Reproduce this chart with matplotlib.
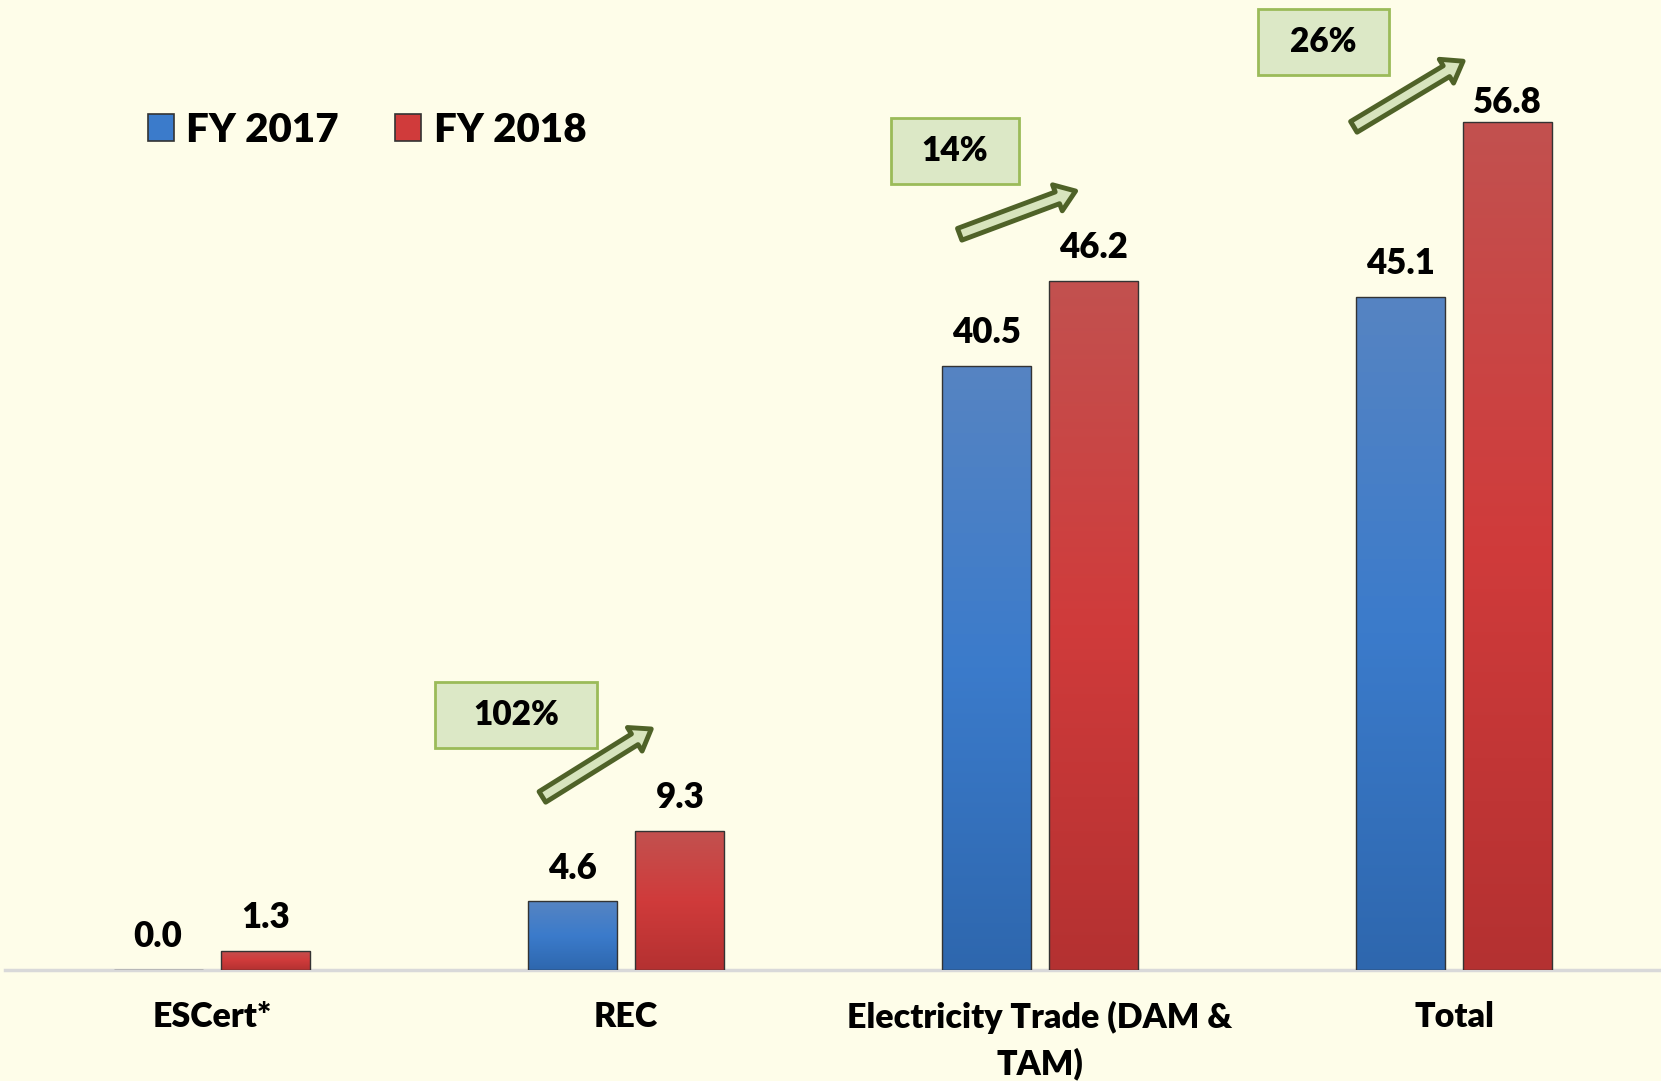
import numpy as np
import matplotlib
matplotlib.use("Agg")
import matplotlib.pyplot as plt
from matplotlib.patches import Patch, Rectangle, FancyArrowPatch
from matplotlib.colors import LinearSegmentedColormap

# ---------------------------------------------------------------------------
# Data
# ---------------------------------------------------------------------------
categories = ["ESCert*", "REC", "Electricity Trade (DAM &\nTAM)", "Total"]
fy2017 = [0.0, 4.6, 40.5, 45.1]
fy2018 = [1.3, 9.3, 46.2, 56.8]
series_names = ["FY 2017", "FY 2018"]

# growth call-outs: category index -> (box centre, arrow tail, arrow tip) in data units
growth_idx = [1, 2, 3]
growth_box = [(0.734, 17.1), (1.795, 54.9), (2.685, 62.2)]
growth_box_w = [0.39, 0.31, 0.317]
growth_tail = [(0.798, 11.6), (1.806, 49.3), (2.758, 56.5)]
growth_tip = [(1.061, 16.15), (2.086, 52.2), (3.022, 60.9)]

# ---------------------------------------------------------------------------
# Style
# ---------------------------------------------------------------------------
BG = "#FEFDE9"
BLUE_GRAD = ["#5684C2", "#3B7BCB", "#2E67AE"]
RED_GRAD = ["#C2514F", "#D03B3B", "#B43131"]
BOX_FACE = "#DCE8C6"
BOX_EDGE = "#9BBB59"
ARROW_FACE = "#D7E4BD"
ARROW_EDGE = "#4F6228"
WEIGHT = "heavy"

BAR_WIDTH = 0.215
OFFSET = 0.13

plt.rcParams.update({
    "font.family": ["Lato", "DejaVu Sans"],
    "font.weight": WEIGHT,
})

fig = plt.figure(figsize=(16.61, 10.81), dpi=100, facecolor=BG)
ax = fig.add_axes([5 / 1661, 1 - 970 / 1081, 1 - 5 / 1661, 970 / 1081])
ax.set_facecolor(BG)

x = np.arange(len(categories))
b1 = ax.bar(x - OFFSET, fy2017, BAR_WIDTH, color=BLUE_GRAD[1],
            edgecolor="#333333", linewidth=1.0, zorder=3)
b2 = ax.bar(x + OFFSET, fy2018, BAR_WIDTH, color=RED_GRAD[1],
            edgecolor="#333333", linewidth=1.0, zorder=3)


def _gradient(bars, colors):
    cmap = LinearSegmentedColormap.from_list("g", colors[::-1])
    grad = np.linspace(0, 1, 256).reshape(-1, 1)
    for bar in bars:
        x0, y0 = bar.get_x(), bar.get_y()
        w, h = bar.get_width(), bar.get_height()
        if h <= 0:
            continue
        im = ax.imshow(grad, cmap=cmap, aspect="auto", origin="lower",
                       extent=[x0, x0 + w, y0, y0 + h], zorder=3.5)
        im.set_clip_path(bar)
        bar.set_facecolor("none")
        bar.set_zorder(4)


_gradient(b1, BLUE_GRAD)
_gradient(b2, RED_GRAD)

# value labels
ymax_val = max(fy2018)
for bars, vals in ((b1, fy2017), (b2, fy2018)):
    for bar, v in zip(bars, vals):
        off = 14 if v == ymax_val else 24
        ax.annotate(f"{v:.1f}", (bar.get_x() + bar.get_width() / 2, v),
                    xytext=(0, off), textcoords="offset points",
                    ha="center", va="center", fontsize=25, fontweight=WEIGHT,
                    color="black", zorder=6)

# growth call-outs
for i, (cx, cy), bw, tail, tip in zip(growth_idx, growth_box, growth_box_w,
                                      growth_tail, growth_tip):
    pct = round((fy2018[i] / fy2017[i] - 1) * 100)
    bh = 4.4
    ax.add_patch(Rectangle((cx - bw / 2, cy - bh / 2), bw, bh,
                           facecolor=BOX_FACE, edgecolor=BOX_EDGE,
                           linewidth=2, zorder=5))
    ax.text(cx, cy, f"{pct}%", ha="center", va="center", fontsize=24,
            fontweight=WEIGHT, color="black", zorder=6)
    arr = FancyArrowPatch(tail, tip,
                          arrowstyle="simple,head_width=20,head_length=14,tail_width=9",
                          facecolor=ARROW_FACE, edgecolor=ARROW_EDGE,
                          linewidth=3.5, shrinkA=0, shrinkB=0, zorder=5)
    ax.add_patch(arr)

# axes
ax.set_xlim(-0.5, 3.5)
ax.set_ylim(0, 65)
for s in ("top", "right", "left"):
    ax.spines[s].set_visible(False)
ax.spines["bottom"].set_color("#D9D9D9")
ax.spines["bottom"].set_linewidth(2.5)
ax.spines["bottom"].set_zorder(2)
ax.set_yticks([])
ax.set_xticks(x)
ax.set_xticklabels(categories, fontsize=24.5, fontweight=WEIGHT, linespacing=1.5)
ax.tick_params(axis="x", length=0, pad=22)

# legend
handles = [Patch(facecolor=BLUE_GRAD[1], edgecolor="#333333", linewidth=1.2),
           Patch(facecolor=RED_GRAD[1], edgecolor="#333333", linewidth=1.2)]
leg = fig.legend(handles, series_names, loc="center left",
                 bbox_to_anchor=(148 / 1661, 1 - 130 / 1081),
                 bbox_transform=fig.transFigure, ncol=2, frameon=False,
                 prop={"size": 29, "weight": WEIGHT},
                 handlelength=0.65, handleheight=0.65, handletextpad=0.3,
                 columnspacing=1.4, borderpad=0, borderaxespad=0)

fig.savefig("out.png", dpi=100, facecolor=BG)
